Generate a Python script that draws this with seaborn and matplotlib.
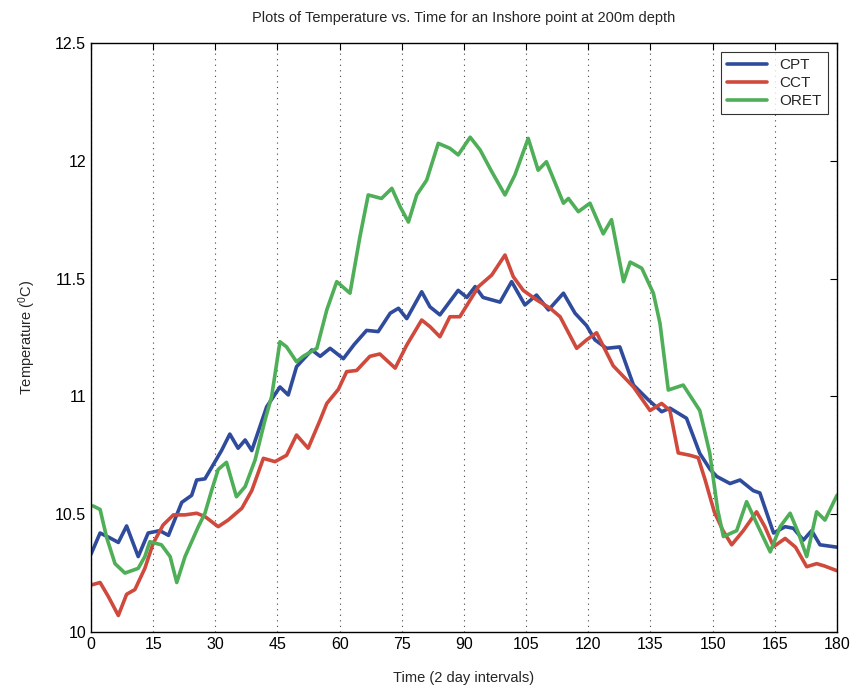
import numpy as np
import pandas as pd
import matplotlib
matplotlib.use("Agg")
import matplotlib.pyplot as plt
import seaborn as sns

# ---- data ----
cpt_t = [0, 2.2, 4.5, 6.6, 8.6, 11.4, 13.8, 16.6, 18.7, 21.9, 24.3, 25.5, 27.5, 31.5, 33.5, 35.5,
         37.2, 38.8, 42.4, 45.6, 47.6, 49.6, 53.3, 55.3, 57.7, 60.9, 63.5, 66.5, 69.3, 72.2, 74.2,
         76.2, 79.8, 81.8, 84.2, 88.6, 90.7, 92.7, 94.6, 98.7, 101.5, 104.7, 107.5, 110.4, 114,
         116.8, 119.6, 121.6, 124.4, 127.6, 130.9, 134.5, 137.7, 139.7, 143.7, 146.9, 149.4, 151,
         154.2, 156.6, 159.8, 161.4, 164.7, 167.5, 169.5, 171.9, 173.9, 175.9, 180]
cpt_y = [10.33, 10.42, 10.40, 10.38, 10.45, 10.32, 10.42, 10.43, 10.41, 10.55, 10.58, 10.645, 10.65,
         10.77, 10.84, 10.78, 10.815, 10.77, 10.956, 11.04, 11.006, 11.126, 11.197, 11.17, 11.204,
         11.16, 11.22, 11.28, 11.275, 11.353, 11.374, 11.33, 11.444, 11.38, 11.346, 11.45, 11.42,
         11.466, 11.42, 11.40, 11.487, 11.388, 11.43, 11.367, 11.438, 11.353, 11.30, 11.24, 11.204,
         11.21, 11.048, 10.985, 10.935, 10.95, 10.907, 10.758, 10.69, 10.66, 10.63, 10.645, 10.60,
         10.59, 10.42, 10.447, 10.44, 10.39, 10.43, 10.37, 10.36]

cct_t = [0.2, 2.2, 4.2, 6.6, 8.6, 10.6, 13, 15, 17.4, 19.9, 22.7, 25.5, 27.5, 30.7, 33.1, 36.4, 38.8,
         41.6, 44.4, 47.2, 49.6, 52.4, 55.3, 56.9, 59.7, 61.7, 64.1, 67.3, 69.7, 73.4, 76.2, 79.8,
         81.8, 84.2, 86.6, 89, 93.5, 96.7, 99.9, 101.9, 104.3, 107.5, 110.8, 113.2, 117.2, 119.6,
         122, 126, 130.9, 134.9, 137.7, 139.7, 141.7, 144.5, 146.5, 148.2, 150.4, 152.5, 154.6,
         157.4, 160.6, 162.6, 164.7, 167.5, 170, 172.7, 175.1, 177, 180]
cct_y = [10.20, 10.21, 10.15, 10.07, 10.16, 10.18, 10.27, 10.376, 10.454, 10.497, 10.497, 10.504,
         10.49, 10.447, 10.475, 10.525, 10.60, 10.737, 10.723, 10.75, 10.836, 10.78, 10.90, 10.97,
         11.03, 11.105, 11.11, 11.17, 11.18, 11.12, 11.218, 11.324, 11.296, 11.253, 11.338, 11.338,
         11.466, 11.515, 11.60, 11.508, 11.45, 11.41, 11.374, 11.338, 11.204, 11.24, 11.27, 11.13,
         11.04, 10.94, 10.97, 10.94, 10.76, 10.75, 10.74, 10.645, 10.51, 10.43, 10.37, 10.43, 10.51,
         10.447, 10.362, 10.397, 10.36, 10.277, 10.29, 10.28, 10.26]

oret_t = [0.5, 2.2, 3.8, 5.8, 8.2, 11.4, 13, 14.2, 17, 19.1, 20.7, 22.7, 25.9, 27.5, 29.1, 30.7, 32.7,
          35.1, 37.2, 39.6, 42, 43.6, 45.6, 47.2, 49.6, 51.2, 54.5, 56.9, 59.3, 62.5, 64.9, 66.9,
          70.1, 72.6, 74.6, 76.6, 78.6, 81, 83.8, 86.6, 88.6, 91.5, 93.9, 96.7, 99.9, 102.3, 105.5,
          107.9, 109.9, 114, 115.2, 117.6, 120.4, 123.6, 125.6, 128.5, 130.1, 132.9, 135.7, 137.3,
          139.3, 142.9, 146.9, 149.3, 151.2, 152.6, 155.8, 158.2, 161, 163.9, 166.3, 168.7, 170.7,
          172.7, 175.1, 177.1, 180]
oret_y = [10.535, 10.52, 10.40, 10.29, 10.25, 10.27, 10.32, 10.383, 10.37, 10.32, 10.21, 10.32,
          10.447, 10.504, 10.60, 10.69, 10.72, 10.574, 10.617, 10.73, 10.9, 11.0, 11.232, 11.21,
          11.147, 11.17, 11.204, 11.367, 11.487, 11.438, 11.678, 11.855, 11.84, 11.883, 11.805,
          11.74, 11.855, 11.918, 12.074, 12.053, 12.025, 12.10, 12.046, 11.954, 11.855, 11.94,
          12.095, 11.96, 11.996, 11.82, 11.84, 11.784, 11.82, 11.69, 11.75, 11.487, 11.57, 11.544,
          11.438, 11.31, 11.027, 11.048, 10.94, 10.76, 10.52, 10.405, 10.43, 10.553, 10.447, 10.34,
          10.447, 10.504, 10.42, 10.32, 10.51, 10.475, 10.58]

series_names = ["CPT", "CCT", "ORET"]
series_colors = ["#2f4b9c", "#cf4a3c", "#4fae58"]
x_ticks = list(range(0, 181, 15))
y_ticks = [10, 10.5, 11, 11.5, 12, 12.5]
y_tick_labels = ["10", "10.5", "11", "11.5", "12", "12.5"]

# ---- build long table ----
frames = []
for name, t, y in zip(series_names, [cpt_t, cct_t, oret_t], [cpt_y, cct_y, oret_y]):
    frames.append(pd.DataFrame({"t": t, "temp": y, "series": name}))
df = pd.concat(frames, ignore_index=True)

sns.set_style("white")
plt.rcParams["font.family"] = ["Liberation Sans", "DejaVu Sans"]
plt.rcParams["mathtext.fontset"] = "custom"
plt.rcParams["mathtext.rm"] = "Liberation Sans"
plt.rcParams["mathtext.it"] = "Liberation Sans"

fig = plt.figure(figsize=(8.55, 6.9), dpi=100)
ax = fig.add_axes([0.1064, 0.0841, 0.8725, 0.8536])

sns.lineplot(data=df, x="t", y="temp", hue="series", hue_order=series_names,
             palette=series_colors, estimator=None, sort=False, linewidth=2.6, ax=ax,
             solid_joinstyle="round", solid_capstyle="round")

ax.set_xlim(0, 180)
ax.set_ylim(10, 12.5)
ax.set_xticks(x_ticks)
ax.set_yticks(y_ticks)
ax.set_yticklabels(y_tick_labels)
ax.tick_params(direction="in", top=True, right=True, length=5, width=0.8,
               labelsize=11.5, colors="black")
ax.xaxis.grid(True, linestyle=(0, (1, 4)), color="#444444", linewidth=0.8)
ax.yaxis.grid(False)
for s in ax.spines.values():
    s.set_color("black")
    s.set_linewidth(1.0)

ax.set_title("Plots of Temperature vs. Time for an Inshore point at 200m depth",
             fontsize=10.5, pad=15)
ax.set_xlabel("Time (2 day intervals)", fontsize=10.5, labelpad=14)
ax.set_ylabel("Temperature ($^0$C)", fontsize=10.5, labelpad=12)

leg = ax.legend(title=None, loc="upper right", fontsize=11, frameon=True, fancybox=False,
                edgecolor="black", borderaxespad=0.6, handlelength=2.6, labelspacing=0.25)
leg.get_frame().set_linewidth(0.8)

fig.savefig("out.png", dpi=100, facecolor="white")
